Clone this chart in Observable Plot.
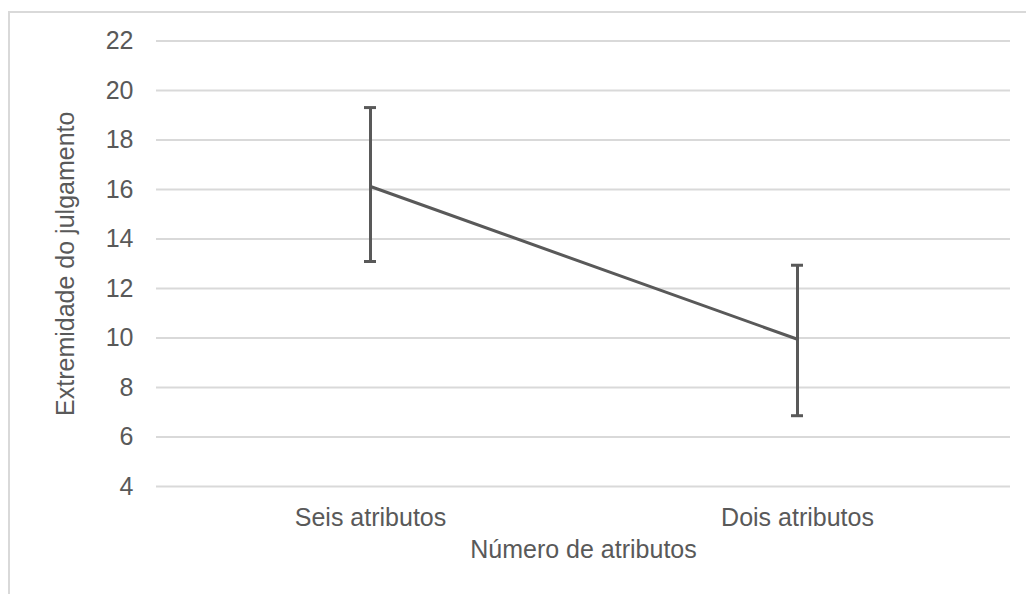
<!DOCTYPE html>
<html><head><meta charset="utf-8">
<script src="https://cdn.jsdelivr.net/npm/d3@7"></script>
<script src="https://cdn.jsdelivr.net/npm/@observablehq/plot@0.6"></script>
<style>
html,body{margin:0;padding:0;background:#fff;overflow:hidden;}
#wrap{position:relative;width:1026px;height:594px;}
#wrap svg{position:absolute;left:0;top:0;}
#border{position:absolute;left:8px;top:11px;width:2000px;height:2000px;border-left:2px solid #d9d9d9;border-top:2px solid #d9d9d9;pointer-events:none;}
</style></head><body><div id="wrap"><div id="border"></div></div>
<script>
const categories = ["Seis atributos", "Dois atributos"];
const means = [16.12, 9.95];
const lows = [13.09, 6.86];
const highs = [19.31, 12.94];
const yTicks = [4, 6, 8, 10, 12, 14, 16, 18, 20, 22];
const xTitle = "Número de atributos";
const yTitle = "Extremidade do julgamento";

const data = categories.map((c, i) => ({cat: c, mean: means[i], lo: lows[i], hi: highs[i]}));
const ink = "#595959";
const fs = 25;
const chart = Plot.plot({
  width: 1026, height: 594,
  marginLeft: 156, marginRight: 16, marginTop: 40.5, marginBottom: 108,
  style: {fontFamily: "'Liberation Sans', Arial, sans-serif", fontSize: fs + "px", color: ink, background: "transparent", overflow: "visible"},
  x: {type: "point", domain: categories, padding: 0.5},
  y: {domain: [4, 22]},
  marks: [
    Plot.gridY(yTicks, {stroke: "#d9d9d9", strokeOpacity: 1, strokeWidth: 2}),
    Plot.axisY(yTicks, {tickSize: 0, tickPadding: 23, fontSize: fs, fill: ink, label: null}),
    Plot.axisX({tickSize: 0, tickPadding: 21.5, fontSize: fs, fill: ink, label: null}),
    Plot.text([xTitle], {frameAnchor: "bottom", lineAnchor: "top", dy: 54, fontSize: fs, fill: ink}),
    Plot.text([yTitle], {frameAnchor: "left", textAnchor: "middle", lineAnchor: "middle", rotate: -90, dx: -91, fontSize: fs, fill: ink}),
    Plot.ruleX(data, {x: "cat", y1: "lo", y2: "hi", stroke: ink, strokeWidth: 3}),
    Plot.ruleY(data, {x1: "cat", x2: "cat", y: "lo", stroke: ink, strokeWidth: 3, insetLeft: -6, insetRight: -6}),
    Plot.ruleY(data, {x1: "cat", x2: "cat", y: "hi", stroke: ink, strokeWidth: 3, insetLeft: -6, insetRight: -6}),
    Plot.line(data, {x: "cat", y: "mean", stroke: ink, strokeWidth: 3})
  ]
});
document.getElementById("wrap").appendChild(chart);
</script>
</body></html>
